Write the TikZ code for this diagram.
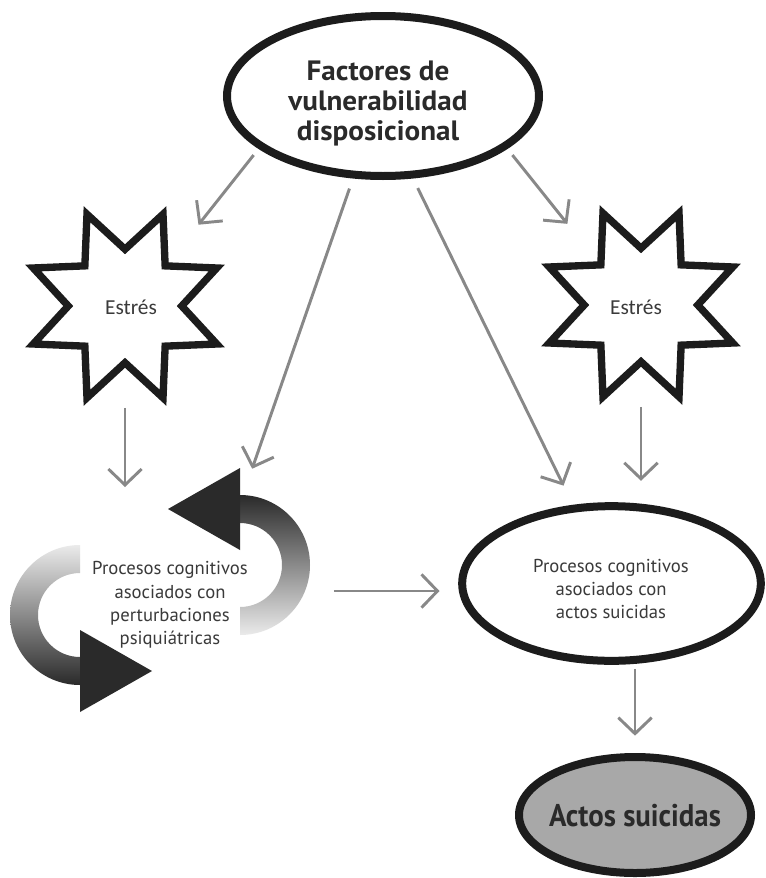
\documentclass[tikz,border=0pt]{standalone}
\usepackage{fontspec}
\usepackage{tikz}
\usetikzlibrary{shapes.geometric,arrows.meta}
\newfontfamily\sanscond[FakeStretch=0.92]{PT Sans}
\newfontfamily\sansancho[FakeStretch=1.04]{PT Sans}
\newfontfamily\sansreg{PT Sans}
\newfontfamily\calib{Carlito}
\definecolor{gris}{RGB}{136,136,136}
\definecolor{tinta}{RGB}{28,28,28}
\definecolor{oscuro}{RGB}{42,42,42}
\definecolor{letra}{RGB}{58,58,58}
\definecolor{relleno}{RGB}{168,168,168}

\tikzset{
	elipse/.style={ellipse, draw=tinta, line width=6pt, inner sep=0pt},
	estrella/.style={star, star points=8, star point ratio=1.75, shape border rotate=22.5, draw=tinta, line width=5.5pt, line join=miter, minimum size=149pt, inner sep=0pt},
	flecha/.style={draw=gris, line width=2.2pt, -{Straight Barb[length=12pt,width=25pt]}},
	textonegro/.style={text=oscuro, align=center, inner sep=0pt},
	textogris/.style={font=\sansreg\fontsize{14}{17.6}\selectfont, text=letra, align=center, inner sep=0pt},
}

\begin{document}
\begin{tikzpicture}[x=0.75pt,y=0.75pt,yscale=-1,xscale=1]
		
		\fill[white] (0,0) rectangle (766,878);
		\useasboundingbox (0,0) rectangle (766,878);
		
		%Shape: Ellipse [id:factores] 
		\node[elipse, minimum width=234pt, minimum height=120pt] (factores) at (383,96) {};
		%Shape: Star [id:estresizq] 
		\node[estrella] (estresizq) at (125,306) {};
		%Shape: Star [id:estresder] 
		\node[estrella] (estresder) at (641,305) {};
		%Shape: Ellipse [id:procsuic] 
		\node[elipse, minimum width=224pt, minimum height=116pt] (procsuic) at (611.5,583.5) {};
		%Shape: Ellipse [id:actos] 
		\node[elipse, fill=relleno, minimum width=174pt, minimum height=87pt] (actos) at (635,815) {};
		%Shape: Box [id:ciclo] 
		\node[minimum width=232.5pt, minimum height=183pt, inner sep=0pt] (ciclo) at (160,591) {};
		
		%Shape: Curved Arrow (top) 
		\path[top color=oscuro, middle color=oscuro, bottom color=white!92!black] (240,495) arc[start angle=-90, end angle=90, radius=70] -- (240,607) arc[start angle=90, end angle=-90, radius=42] -- cycle;
		\fill[oscuro] (240,468) -- (168,509) -- (240,550) -- cycle;
		%Shape: Curved Arrow (bottom) 
		\path[top color=white!92!black, middle color=oscuro, bottom color=oscuro] (80,685) arc[start angle=90, end angle=270, radius=70] -- (80,573) arc[start angle=270, end angle=90, radius=42] -- cycle;
		\fill[oscuro] (80,630) -- (152,671) -- (80,712) -- cycle;
		
		%Straight Lines [id:f1] 
		\draw[flecha, shorten <=6pt, shorten >=36pt] (factores.203) -- (estresizq.45);
		%Straight Lines [id:f2] 
		\draw[flecha, shorten <=6pt, shorten >=36pt] (factores.337) -- (estresder.135);
		%Straight Lines [id:f3] 
		\draw[flecha, shorten <=8pt] (factores.250) -- (ciclo.53);
		%Straight Lines [id:f4] 
		\draw[flecha, shorten <=8pt, shorten >=16pt] (factores.290) -- (procsuic);
		%Straight Lines [id:f5] 
		\draw[flecha, shorten <=30pt, shorten >=78pt] (estresizq.south) -- (estresizq.south |- ciclo.center);
		%Straight Lines [id:f6] 
		\draw[flecha, shorten <=30pt, shorten >=16pt] (estresder.south) -- (estresder.south |- procsuic.north);
		%Straight Lines [id:f7] 
		\draw[flecha, shorten <=14pt, shorten >=14pt] (ciclo.east) -- (ciclo.east -| procsuic.west);
		%Straight Lines [id:f8] 
		\draw[flecha, shorten <=3pt, shorten >=13pt] (actos.north |- procsuic.south) -- (actos.north);
		
		% Text Node
		\node[textonegro, font=\sansancho\bfseries\fontsize{21}{22.5}\selectfont] (factorestxt) at (378,103) {Factores de\\vulnerabilidad\\disposicional};
		% Text Node
		\node[font=\calib\fontsize{16}{18}\selectfont, text=letra, inner sep=0pt] (estresizqtxt) at (131,307) {Estrés};
		% Text Node
		\node[font=\calib\fontsize{16}{18}\selectfont, text=letra, inner sep=0pt] (estresdertxt) at (636,307) {Estrés};
		% Text Node
		\node[textogris] (procpsiqtxt) at (170,605) {Procesos cognitivos\\asociados con\\perturbaciones\\psiquiátricas};
		% Text Node
		\node[textogris] (procsuictxt) at (611,589) {Procesos cognitivos\\asociados con\\actos suicidas};
		% Text Node
		\node[textonegro, font=\sanscond\bfseries\fontsize{23.5}{26}\selectfont] (actostxt) at (635,816) {Actos suicidas};
		
\end{tikzpicture}
\end{document}
